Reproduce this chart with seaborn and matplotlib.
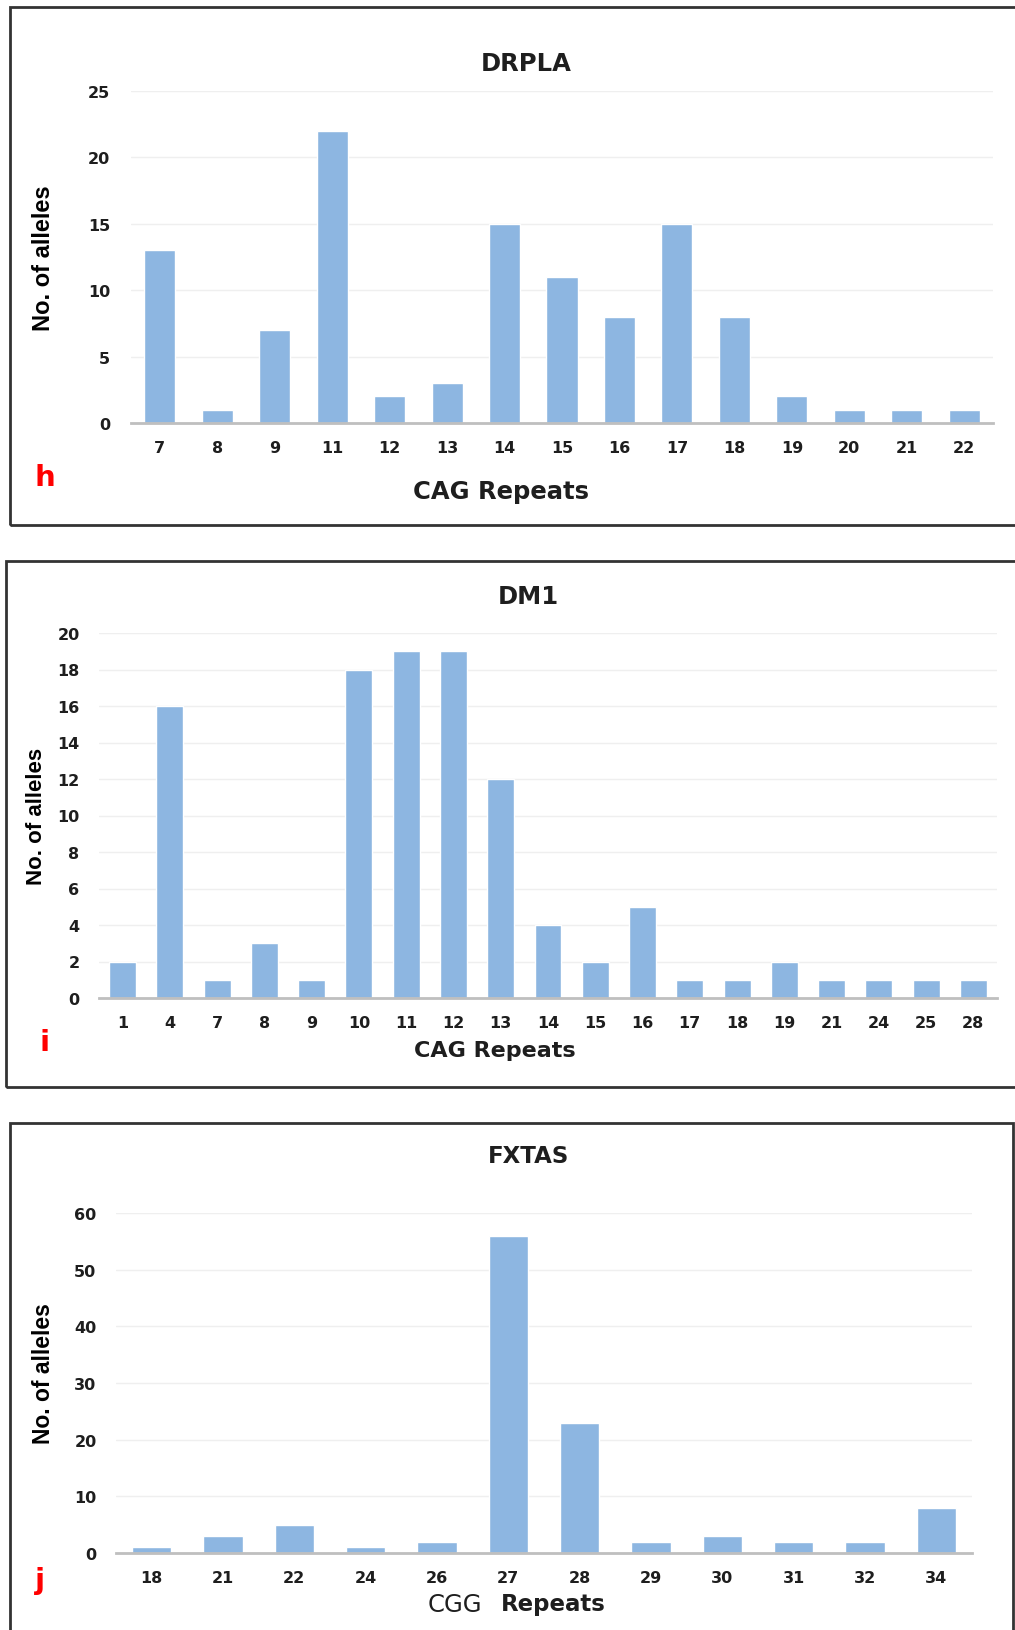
import seaborn as sns
import matplotlib.pyplot as plt
import matplotlib.patches as patches
import pandas as pd

# data
drpla_repeats = ['7', '8', '9', '11', '12', '13', '14', '15', '16', '17', '18', '19', '20', '21', '22']
drpla_alleles = [13, 1, 7, 22, 2, 3, 15, 11, 8, 15, 8, 2, 1, 1, 1]

dm1_repeats = ['1', '4', '7', '8', '9', '10', '11', '12', '13', '14', '15', '16', '17', '18', '19', '21', '24', '25', '28']
dm1_alleles = [2, 16, 1, 3, 1, 18, 19, 19, 12, 4, 2, 5, 1, 1, 2, 1, 1, 1, 1]

fxtas_repeats = ['18', '21', '22', '24', '26', '27', '28', '29', '30', '31', '32', '34']
fxtas_alleles = [1, 3, 5, 1, 2, 56, 23, 2, 3, 2, 2, 8]

W, H = 1015, 1631
BAR = '#8DB6E1'
INK = '#1e1e1e'

sns.set_theme(style='white')
plt.rcParams['font.family'] = ['DejaVu Sans']

fig = plt.figure(figsize=(W / 100, H / 100), dpi=100)


def fx(x):
    return x / W


def fy(y):
    return 1 - y / H


def panel(repeats, alleles, ymax, ystep, box, axbox, width, ypad,
          title, title_xy, title_size, ylab_xy, ylab_size, letter, letter_xy):
    # outer frame around each panel
    bx0, by0, bx1, by1 = box
    fig.patches.append(patches.Rectangle((fx(bx0), fy(by1)), fx(bx1 - bx0), (by1 - by0) / H,
                                         transform=fig.transFigure, fill=False,
                                         edgecolor='#333333', linewidth=2))
    l, r, t, b = axbox
    ax = fig.add_axes([fx(l), fy(b), fx(r - l), (b - t) / H])
    df = pd.DataFrame({'repeats': repeats, 'alleles': alleles})
    sns.barplot(data=df, x='repeats', y='alleles', order=repeats, color=BAR,
                saturation=1, width=width, ax=ax)
    ax.set_ylim(0, ymax)
    ax.set_xlim(-0.5, len(repeats) - 0.5)
    ax.set_yticks(range(0, ymax + 1, ystep))
    ax.yaxis.grid(True, color='#EFEFEF', linewidth=1)
    ax.set_axisbelow(True)
    for s in ['top', 'right', 'left']:
        ax.spines[s].set_visible(False)
    ax.spines['bottom'].set_color('#BFBFBF')
    ax.spines['bottom'].set_linewidth(2)
    ax.tick_params(axis='x', length=0, pad=12, labelsize=11.5)
    ax.tick_params(axis='y', length=0, pad=ypad, labelsize=11.5)
    for lab in ax.get_xticklabels() + ax.get_yticklabels():
        lab.set_fontweight('bold')
        lab.set_color(INK)
    ax.set_xlabel('')
    ax.set_ylabel('')
    fig.text(fx(title_xy[0]), fy(title_xy[1]), title, ha='center', va='center',
             fontsize=title_size, fontweight='bold', color=INK)
    fig.text(fx(ylab_xy[0]), fy(ylab_xy[1]), 'No. of alleles', ha='center', va='center',
             rotation=90, fontsize=ylab_size, fontweight='bold', color='black',
             family='Liberation Sans')
    fig.text(fx(letter_xy[0]), fy(letter_xy[1]), letter, ha='center', va='center',
             fontsize=21, fontweight='bold', color='#FF0000')
    return ax


panel(drpla_repeats, drpla_alleles, 25, 5, (10, 8, 1030, 526), (131, 993, 92, 424), 0.54, 15,
      'DRPLA', (526, 64), 17.5, (44, 258), 17, 'h', (45, 478))
fig.text(fx(501), fy(492), 'CAG Repeats', ha='center', va='center',
         fontsize=17.5, fontweight='bold', color=INK)

panel(dm1_repeats, dm1_alleles, 20, 2, (6, 562, 1030, 1088), (99, 997, 634, 999), 0.57, 14,
      'DM1', (528, 597), 17.5, (37, 816), 16, 'i', (45, 1043))
fig.text(fx(495), fy(1051), 'CAG Repeats', ha='center', va='center',
         fontsize=16, fontweight='bold', color=INK)

panel(fxtas_repeats, fxtas_alleles, 60, 10, (10, 1124, 1013, 1650), (116, 972, 1214, 1554), 0.55, 14,
      'FXTAS', (529, 1157), 16.5, (44, 1374), 16.5, 'j', (40, 1581))
fig.text(fx(428), fy(1605), 'CGG', ha='left', va='center',
         fontsize=17.5, color=INK)
fig.text(fx(501), fy(1605), 'Repeats', ha='left', va='center',
         fontsize=16.5, fontweight='bold', color=INK)

plt.savefig('out.png', dpi=100)
plt.close()
